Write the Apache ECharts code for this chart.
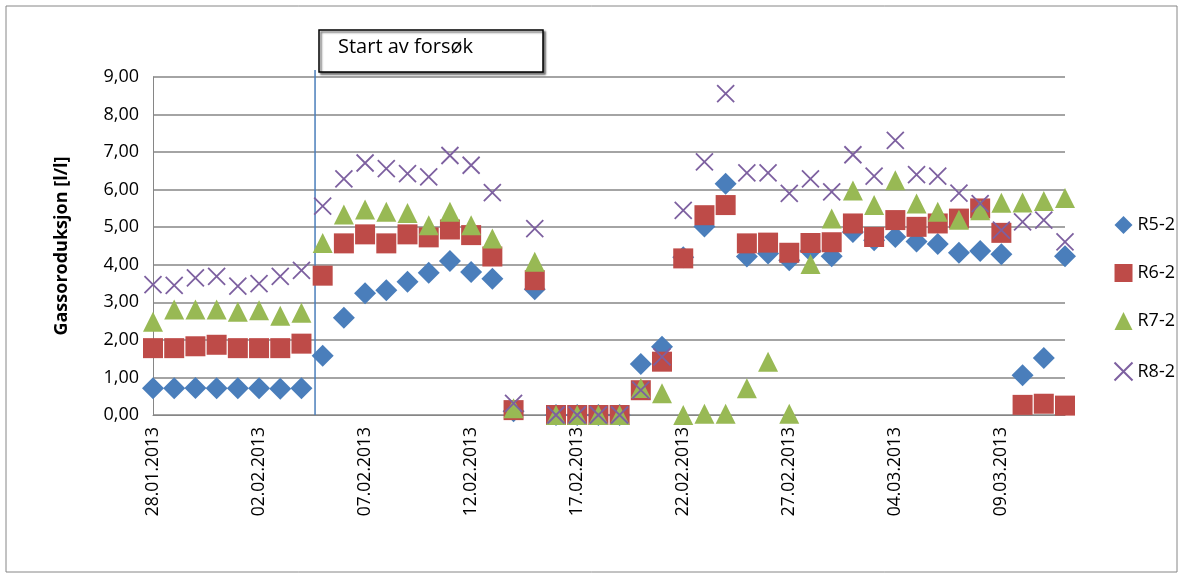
<!DOCTYPE html><html><head><meta charset="utf-8"><script src="https://cdn.jsdelivr.net/npm/echarts@6/dist/echarts.min.js"></script></head><body style="margin:0"><div id="c" style="width:1184px;height:578px"></div><script>
const categories=[];for(let i=0;i<44;i++){const d=new Date(2013,0,28+i);categories.push(String(d.getDate()).padStart(2,'0')+'.'+String(d.getMonth()+1).padStart(2,'0')+'.'+d.getFullYear());}
const r5=[0.71,0.71,0.72,0.71,0.71,0.71,0.70,0.71,1.58,2.59,3.24,3.32,3.55,3.79,4.10,3.81,3.63,0.10,3.35,0,0,0,0,1.36,1.82,4.20,5.02,6.16,4.22,4.30,4.12,4.37,4.23,4.87,4.65,4.74,4.62,4.55,4.32,4.37,4.28,1.06,1.52,4.23];
const r6=[1.78,1.78,1.83,1.87,1.78,1.78,1.78,1.90,3.71,4.57,4.81,4.57,4.81,4.73,4.94,4.79,4.22,0.13,3.59,0,0,0,0,0.66,1.42,4.17,5.32,5.59,4.57,4.59,4.32,4.58,4.60,5.10,4.74,5.19,5.01,5.10,5.23,5.50,4.85,0.27,0.30,0.25];
const r7=[2.48,2.81,2.81,2.81,2.75,2.79,2.64,2.72,4.58,5.34,5.47,5.41,5.38,5.05,5.41,5.05,4.70,0.18,4.08,0,0,0,0,0.72,0.58,0,0.03,0.03,0.71,1.42,0.03,4.02,5.23,5.98,5.59,6.25,5.63,5.41,5.20,5.45,5.65,5.66,5.70,5.78];
const r8=[3.47,3.45,3.65,3.69,3.43,3.50,3.69,3.85,5.56,6.29,6.71,6.56,6.43,6.34,6.91,6.65,5.92,0.31,4.96,0,0,0,0,0.66,1.55,5.45,6.74,8.56,6.45,6.45,5.90,6.29,5.94,6.93,6.36,7.31,6.40,6.36,5.91,5.63,4.92,5.14,5.19,4.61];
const startIndex=7.64;
const X='path://M0,0L10,10M10,0L0,10';
const ch=echarts.init(document.getElementById('c'));
const ser=(n,d,sym,col,sz)=>({name:n,type:'scatter',data:d,symbol:sym,symbolSize:sz,itemStyle:sym===X?{color:'none',borderColor:col,borderWidth:1.8,opacity:1}:{color:col,opacity:1}});
ch.setOption({animation:false,
 grid:{left:153,right:119,top:77,bottom:163},
 xAxis:{type:'category',data:categories,boundaryGap:false,axisTick:{show:false},axisLine:{lineStyle:{color:'#868686'}},axisLabel:{interval:4,rotate:90,color:'#000',fontSize:17.5,fontFamily:'Open Sans',margin:12},splitLine:{show:false}},
 yAxis:{type:'value',min:0,max:9,interval:1,axisLine:{show:true,lineStyle:{color:'#868686'}},axisLabel:{color:'#000',fontSize:18,fontFamily:'Open Sans',formatter:v=>v.toFixed(2).replace('.',','),margin:14},splitLine:{lineStyle:{color:'#868686',width:1.5}},
  name:'Gassoroduksjon [l/l]',nameLocation:'middle',nameGap:82,nameTextStyle:{fontWeight:'bold',fontSize:18,fontFamily:'Open Sans',color:'#000'}},
 legend:{orient:'vertical',right:4,top:211,itemGap:30,itemWidth:18,itemHeight:18,textStyle:{fontSize:18,fontFamily:'Open Sans',color:'#000'}},
 series:[ser('R5-2',r5,'diamond','#4a7ebb',22),ser('R6-2',r6,'rect','#be4b48',20),ser('R7-2',r7,'triangle','#98b954',20),ser('R8-2',r8,X,'#7d60a0',17)]
});
const p7=ch.convertToPixel({xAxisIndex:0},7),p8=ch.convertToPixel({xAxisIndex:0},8);
const lx=p7+(p8-p7)*(startIndex-7);const y0=ch.convertToPixel({yAxisIndex:0},0);
ch.setOption({graphic:[
 {type:'rect',shape:{x:6,y:6,width:1171,height:566},style:{fill:'none',stroke:'#868686',lineWidth:1}},
 {type:'line',shape:{x1:lx,y1:70,x2:lx,y2:y0},style:{stroke:'#4a7ebb',lineWidth:1.5}},
 {type:'rect',shape:{x:319,y:30,width:224,height:42},style:{fill:'#fff',stroke:'#000',lineWidth:1.5,shadowColor:'#666',shadowOffsetX:2,shadowOffsetY:2,shadowBlur:2}},
 {type:'text',x:338,y:37,style:{text:'Start av forsøk',fontSize:20,fontFamily:'Open Sans',fill:'#000'}}
]});
</script></body></html>
